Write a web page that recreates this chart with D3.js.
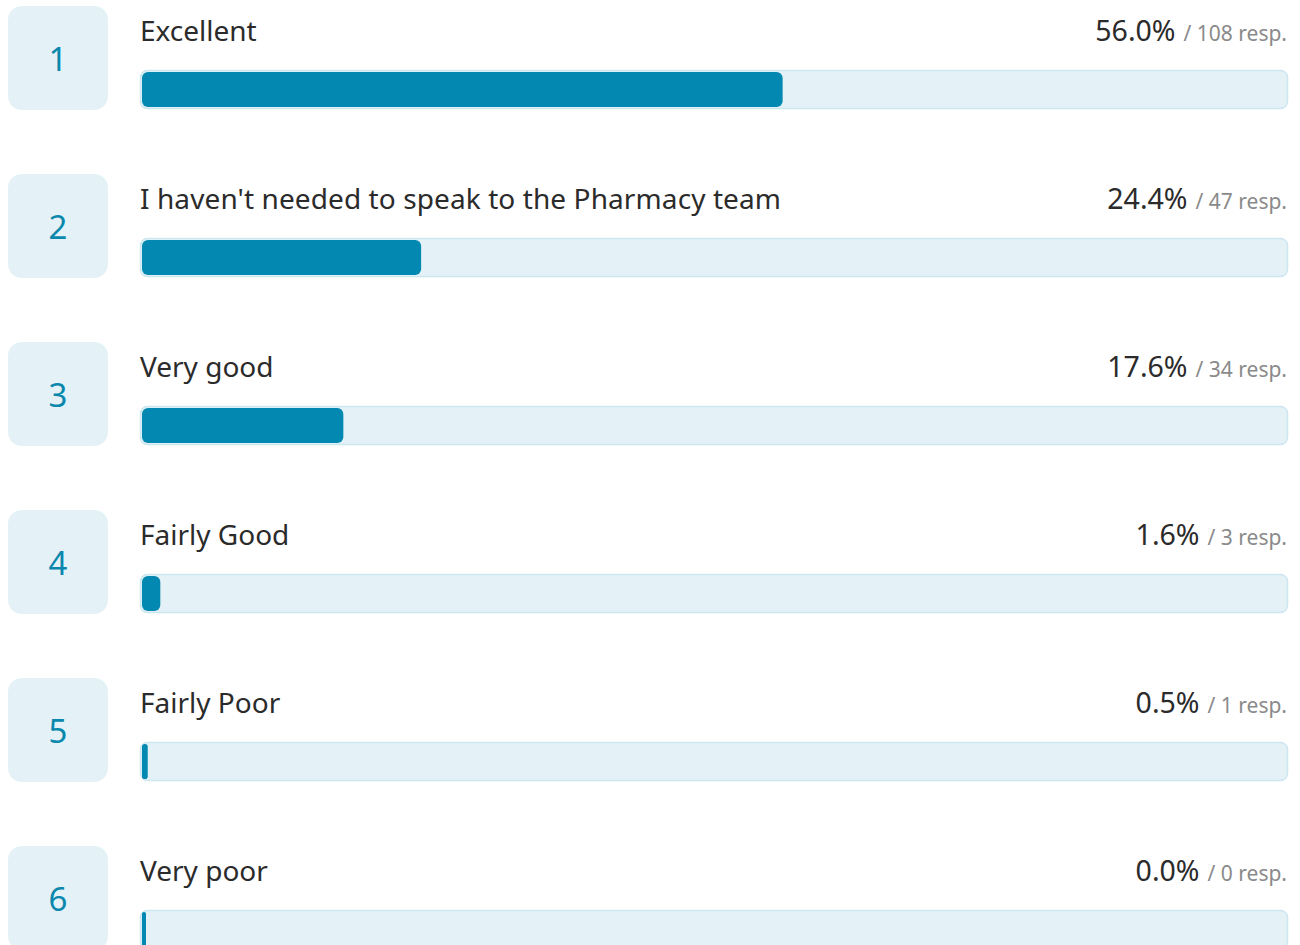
<html>
<style>
    body { margin: 0px; background: #fff; }
</style>
<body>
<svg id="viz"></svg>
</body>
<script src="https://d3js.org/d3.v7.min.js"></script>
<script>
var labels = ["Excellent", "I haven't needed to speak to the Pharmacy team", "Very good", "Fairly Good", "Fairly Poor", "Very poor"];
var percents = [56.0, 24.4, 17.6, 1.6, 0.5, 0.0];
var counts = [108, 47, 34, 3, 1, 0];

var width = 1300, height = 945;
var rowH = 168;
var font = "'Source Sans Pro', 'Noto Sans', sans-serif";

var svg = d3.select("#viz").attr("width", width).attr("height", height)
    .style("font-family", font);

// track spans 140..1288, fill is inset 2px
var x = d3.scaleLinear().domain([0, 100]).range([0, 1144]);

var row = svg.selectAll("g.row")
    .data(labels)
    .enter()
    .append("g")
    .attr("class", "row")
    .attr("transform", function(d, i) { return "translate(0," + (i * rowH) + ")"; });

// number badge
row.append("rect")
    .attr("x", 8).attr("y", 6)
    .attr("width", 100).attr("height", 104)
    .attr("rx", 14)
    .attr("fill", "#e4f2f7");

row.append("text")
    .attr("x", 58).attr("y", 71)
    .attr("text-anchor", "middle")
    .attr("fill", "#0a87ad")
    .style("font-size", "33px")
    .text(function(d, i) { return i + 1; });

// label
row.append("text")
    .attr("x", 140).attr("y", 41)
    .attr("fill", "#2b2b2b")
    .style("font-size", "28px")
    .attr("textLength", function(d, i) { return i == 1 ? 641 : null; })
    .text(function(d) { return d; });

// percentage + responses
var stat = row.append("text")
    .attr("x", 1287).attr("y", 41)
    .attr("text-anchor", "end");
stat.append("tspan")
    .attr("fill", "#2b2b2b")
    .style("font-size", "28.5px")
    .text(function(d, i) { return percents[i].toFixed(1) + "%"; });
stat.append("tspan")
    .attr("fill", "#8a8a8a")
    .style("font-size", "21px")
    .attr("dx", 8)
    .text(function(d, i) { return "/ " + counts[i] + " resp."; });

// track
row.append("rect")
    .attr("x", 140.5).attr("y", 70.5)
    .attr("width", 1147).attr("height", 38)
    .attr("rx", 7)
    .attr("fill", "#e4f2f7")
    .attr("stroke", "#cce7ef")
    .attr("stroke-width", 1.5);

// fill
row.append("rect")
    .attr("x", 142).attr("y", 72)
    .attr("width", function(d, i) { return Math.max(4, x(percents[i])); })
    .attr("height", 35)
    .attr("rx", function(d, i) { return Math.min(6, Math.max(4, x(percents[i])) / 2); })
    .attr("fill", "#0288b1");
</script>
</html>
